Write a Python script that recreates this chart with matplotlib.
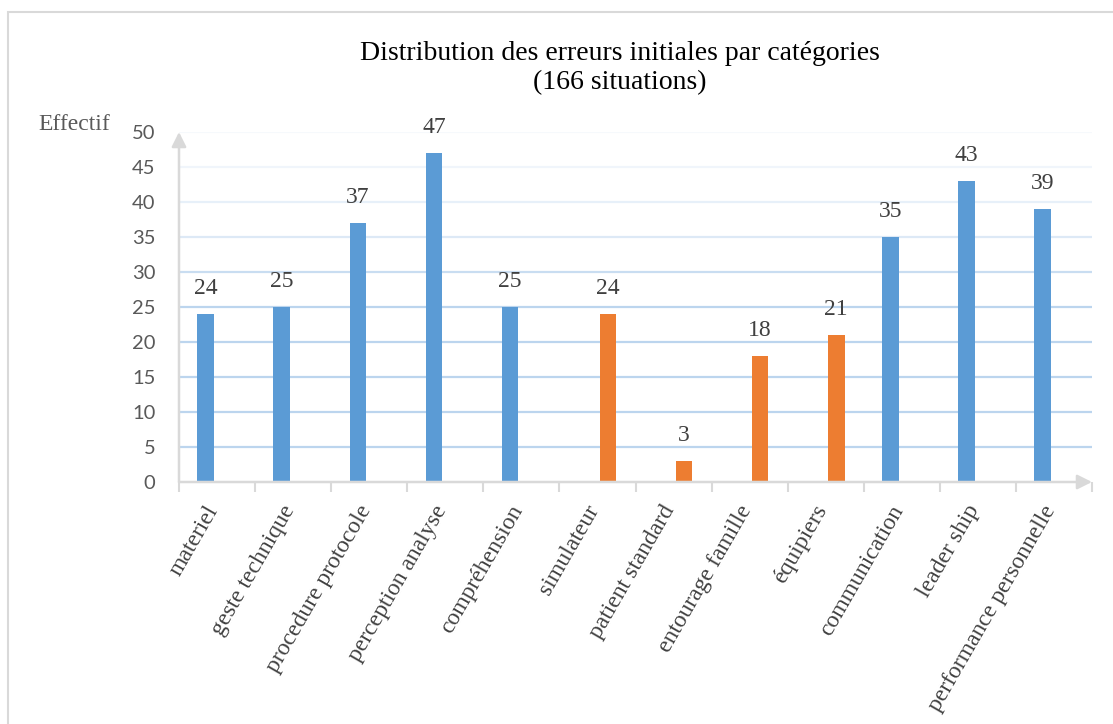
import matplotlib.pyplot as plt
import matplotlib.transforms as mtransforms
from matplotlib.patches import Rectangle

# data
categories = ["materiel", "geste technique", "procedure protocole", "perception analyse",
              "compréhension", "simulateur", "patient standard", "entourage famille",
              "équipiers", "communication", "leader ship", "performance personnelle"]
blue_vals = [24, 25, 37, 47, 25, None, None, None, None, 35, 43, 39]
orange_vals = [None, None, None, None, None, 24, 3, 18, 21, None, None, None]
y_ticks = [0, 5, 10, 15, 20, 25, 30, 35, 40, 45, 50]

BLUE = "#5B9BD5"
ORANGE = "#ED7D31"
AXIS = "#d9d9d9"
GRID = "#bcd5ee"
SERIF = "Liberation Serif"

fig = plt.figure(figsize=(11.13, 7.24), dpi=100)
ax = fig.add_axes([179 / 1113, 1 - 482 / 724, (1092 - 179) / 1113, (482 - 132) / 724])

# outer frame
fig.patches.append(Rectangle((8 / 1113, -0.1), 1.2, (724 - 12) / 724 + 0.1,
                             transform=fig.transFigure, fill=False,
                             edgecolor="#d9d9d9", lw=1.5))

width = 0.22
for vals, off, col in [(blue_vals, -0.148, BLUE), (orange_vals, 0.138, ORANGE)]:
    for i, v in enumerate(vals):
        if v is None:
            continue
        ax.bar(i + off, v, width=width, color=col, zorder=3)
        ax.annotate(str(v), (i + off, v), xytext=(0, 11), textcoords="offset points",
                    ha="center", va="bottom", fontsize=17, family=SERIF, color="#404040")

ax.set_xlim(-0.5, len(categories) - 0.5)
ax.set_ylim(0, 50)
ax.set_yticks(y_ticks)
# gridlines fade out towards the top, as in the source
grid_alpha = [1, 1, 1, 1, 1, 1, 0.8, 0.5, 0.35, 0.22, 0.12]
for t, a in zip(y_ticks[1:], grid_alpha[1:]):
    ax.axhline(t, color=GRID, lw=1.6, alpha=a, zorder=0)
for s in ax.spines.values():
    s.set_visible(False)
ax.tick_params(axis="y", length=0, pad=17, labelsize=14.5, labelcolor="#595959")
for lab in ax.get_yticklabels():
    lab.set_family("Lato")

ax.set_xticks(range(len(categories)))
ax.set_xticklabels(categories, rotation=60, ha="right", va="top",
                   family=SERIF, fontsize=17, color="#404040")
ax.set_xticks([i - 0.5 for i in range(len(categories) + 1)], minor=True)
ax.tick_params(axis="x", which="major", length=0, pad=14)
ax.tick_params(axis="x", which="minor", length=7, width=1.5, color=AXIS)
shift = mtransforms.ScaledTranslation(6 / 100, 0, fig.dpi_scale_trans)
for lab in ax.get_xticklabels():
    lab.set_transform(lab.get_transform() + shift)

# axis arrows
ax.annotate("", xy=(1, 0), xytext=(0, 0), xycoords="axes fraction",
            arrowprops=dict(arrowstyle="-|>", color=AXIS, lw=1.8, mutation_scale=22,
                            shrinkA=0, shrinkB=0), annotation_clip=False, zorder=4)
ax.annotate("", xy=(0, 1), xytext=(0, 0), xycoords="axes fraction",
            arrowprops=dict(arrowstyle="-|>", color=AXIS, lw=1.8, mutation_scale=22,
                            shrinkA=0, shrinkB=0), annotation_clip=False, zorder=4)

fig.text(620 / 1113, 1 - 68 / 724, "Distribution des erreurs initiales par catégories\n(166 situations)",
         ha="center", va="center", family=SERIF, fontsize=20, color="black", linespacing=1.25)
fig.text(38 / 1113, 1 - 125 / 724, "Effectif", ha="left", va="center",
         family=SERIF, fontsize=17, color="#595959")

fig.savefig("out.png", dpi=100)
